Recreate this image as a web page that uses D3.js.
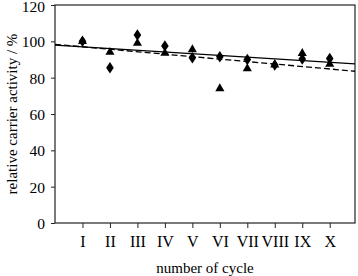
<!DOCTYPE html>
<html><head><meta charset="utf-8">
<script src="https://cdn.jsdelivr.net/npm/d3@7"></script>
<style>body{margin:0;background:#fff}svg{display:block}text{font-family:"Liberation Serif","Times New Roman",serif;fill:#000}</style>
</head><body><div id="c"></div>
<script>
const cycles = [1,2,3,4,5,6,7,8,9,10];
const cycleLabels = ["I","II","III","IV","V","VI","VII","VIII","IX","X"];
const diamonds = [100,85.5,103.5,97.5,91,91.5,90,87,90.3,90.6];
const triangles = [100,94,99,93.5,95.5,74,85,87,93.4,87.5];
const yTicks = [0,20,40,60,80,100,120];

const W=358,H=276;
const m={l:55,r:3,t:5,b:53};
const svg=d3.select("#c").append("svg").attr("width",W).attr("height",H);
const x=d3.scaleLinear().domain([0,10.92]).range([m.l,W-m.r]);
const y=d3.scaleLinear().domain([0,120]).range([H-m.b,m.t]);

function fit(xs,ys){
  const mx=d3.mean(xs),my=d3.mean(ys);
  let sxy=0,sxx=0;
  xs.forEach((v,i)=>{sxy+=(v-mx)*(ys[i]-my);sxx+=(v-mx)*(v-mx);});
  const s=sxy/sxx;return {s,b:my-s*mx};
}
svg.append("rect").attr("x",m.l).attr("y",m.t).attr("width",W-m.r-m.l).attr("height",H-m.b-m.t)
  .attr("fill","none").attr("stroke","#222").attr("stroke-width",1.2);

const xa=svg.append("g").attr("transform",`translate(0,${H-m.b})`)
  .call(d3.axisBottom(x).tickValues(cycles).tickFormat((d,i)=>cycleLabels[i]).tickSize(5).tickPadding(8));
xa.select(".domain").remove();
xa.selectAll("text").attr("font-size",16).attr("font-family","Liberation Serif");
xa.selectAll("line").attr("stroke","#222");

const ya=svg.append("g").attr("transform",`translate(${m.l},0)`)
  .call(d3.axisLeft(y).tickValues(yTicks).tickSize(4).tickPadding(6));
ya.select(".domain").remove();
ya.selectAll("text").attr("font-size",15.5).attr("font-family","Liberation Serif")
  .attr("dy",d=>d===120?"0.45em":"0.36em");
ya.selectAll("line").attr("stroke","#222");

const d0=[0,10.92];
[[diamonds,null],[triangles,"6,3"]].forEach(([ys,dash])=>{
  const f=fit(cycles,ys);
  svg.append("line").attr("x1",x(d0[0])).attr("y1",y(f.b+f.s*d0[0]))
    .attr("x2",x(d0[1])).attr("y2",y(f.b+f.s*d0[1]))
    .attr("stroke","#000").attr("stroke-width",1.3).attr("stroke-dasharray",dash);
});

const tri=d3.symbol().type(d3.symbolTriangle).size(36);
const dia=d3.symbol().type(d3.symbolDiamond).size(38);
svg.append("g").selectAll("path").data(cycles).join("path")
  .attr("d",tri).attr("transform",(d,i)=>`translate(${x(d)},${y(triangles[i])})`).attr("fill","#000");
svg.append("g").selectAll("path").data(cycles).join("path")
  .attr("d",dia).attr("transform",(d,i)=>`translate(${x(d)},${y(diamonds[i])}) scale(1.15,1)`).attr("fill","#000");

svg.append("text").attr("x",(m.l+W-m.r)/2).attr("y",273).attr("text-anchor","middle").attr("font-size",15).text("number of cycle");
svg.append("text").attr("transform",`translate(17,${(m.t+H-m.b)/2}) rotate(-90)`).attr("text-anchor","middle").attr("font-size",15).text("relative carrier activity / %");
</script></body></html>
